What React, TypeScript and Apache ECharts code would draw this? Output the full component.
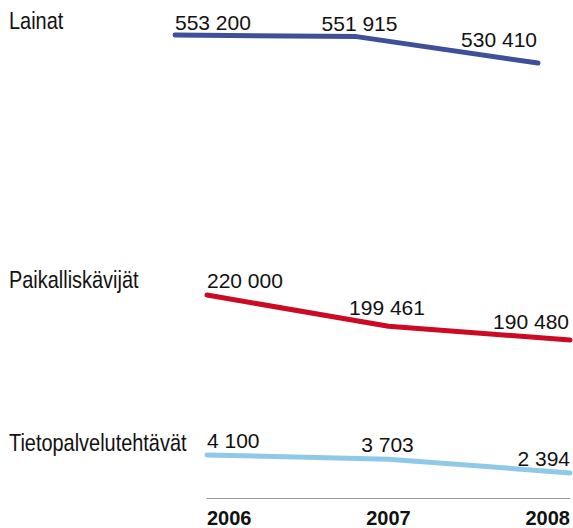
import React, { useEffect, useRef } from "react";
import * as echarts from "echarts";

const years = ["2006", "2007", "2008"];
const lainat = [553200, 551915, 530410];
const paikalliskavijat = [220000, 199461, 190480];
const tietopalvelu = [4100, 3703, 2394];
const rowNames = ["Lainat", "Paikalliskävijät", "Tietopalvelutehtävät"];

const FONT = "'Liberation Sans', Arial, sans-serif";

const fmt = (v: number) => String(v).replace(/\B(?=(\d{3})+(?!\d))/g, " ");

// label alignment and pixel shifts per point (style only)
const ALIGNS = ["left", "center", "right"];
const SHIFTS: [number, number][][] = [
  [[0, -1.5], [3, -2], [-1, -12.5]],
  [[0, -3.5], [-1.5, -7.8], [-1, -7.5]],
  [[0, -3.5], [-1, -3.5], [0, -3]],
];

function buildData(values: number[]) {
  return values.map((v, i) => ({
    value: v,
    label: { align: ALIGNS[i] },
  }));
}

export default function App() {
  const ref = useRef<HTMLDivElement>(null);
  useEffect(() => {
    if (!ref.current) return;
    const chart = echarts.init(ref.current, null, { renderer: "svg" });
    const labelBase = {
      show: true,
      position: "top",
      distance: 0,
      fontFamily: FONT,
      fontSize: 21,
      lineHeight: 21,
      color: "#111",
      formatter: (p: any) => fmt(p.value),
    };
    const lineBase = (color: string, si: number) => ({
      type: "line",
      symbol: "circle",
      symbolSize: 1,
      showSymbol: true,
      itemStyle: { color: "transparent", borderWidth: 0 },
      smooth: false,
      lineStyle: { color, width: 5, cap: "round", join: "round" },
      label: labelBase,
      labelLayout: (p: any) => ({
        dx: SHIFTS[si][p.dataIndex][0],
        dy: SHIFTS[si][p.dataIndex][1],
        hideOverlap: false,
      }),
      silent: true,
    });
    const hiddenX = (gridIndex: number, show = false) => ({
      type: "category",
      gridIndex,
      data: years,
      boundaryGap: false,
      axisLine: { show, lineStyle: { color: "#999", width: 1 } },
      axisTick: { show: false },
      axisLabel: show
        ? {
            show: true,
            fontFamily: FONT,
            fontWeight: "bold",
            fontSize: 20,
            lineHeight: 20,
            color: "#111",
            margin: 10,
            alignMinLabel: "left",
            alignMaxLabel: "right",
          }
        : { show: false },
      splitLine: { show: false },
    });
    const hiddenY = (gridIndex: number, min: number, max: number) => ({
      type: "value",
      gridIndex,
      min,
      max,
      show: false,
      splitLine: { show: false },
    });
    chart.setOption({
      animation: false,
      grid: [
        { left: 175, right: 35, top: 19.3, height: 81.1 },
        { left: 207, right: 3, top: 264.5, height: 137.2 },
        { left: 207, right: 3, top: 412, height: 90 },
      ],
      xAxis: [hiddenX(0), hiddenX(1), hiddenX(2, true)],
      yAxis: [
        hiddenY(0, 500000, 566000),
        hiddenY(1, 150000, 240000),
        hiddenY(2, 0, 8200),
      ],
      graphic: rowNames.map((name, i) => ({
        type: "text",
        x: 9,
        y: [8.5, 268, 431][i],
        scaleX: 0.83,
        style: {
          text: name,
          font: `24px ${FONT}`,
          fill: "#111",
        },
      })),
      series: [
        {
          ...lineBase("#3f4f98", 0),
          xAxisIndex: 0,
          yAxisIndex: 0,
          data: buildData(lainat),
        },
        {
          ...lineBase("#cc0a24", 1),
          xAxisIndex: 1,
          yAxisIndex: 1,
          data: buildData(paikalliskavijat),
        },
        {
          ...lineBase("#8ec9ea", 2),
          xAxisIndex: 2,
          yAxisIndex: 2,
          data: buildData(tietopalvelu),
        },
      ],
    });
    return () => chart.dispose();
  }, []);
  return (
    <div
      ref={ref}
      style={{ position: "absolute", left: 0, top: 0, width: 573, height: 528 }}
    />
  );
}
